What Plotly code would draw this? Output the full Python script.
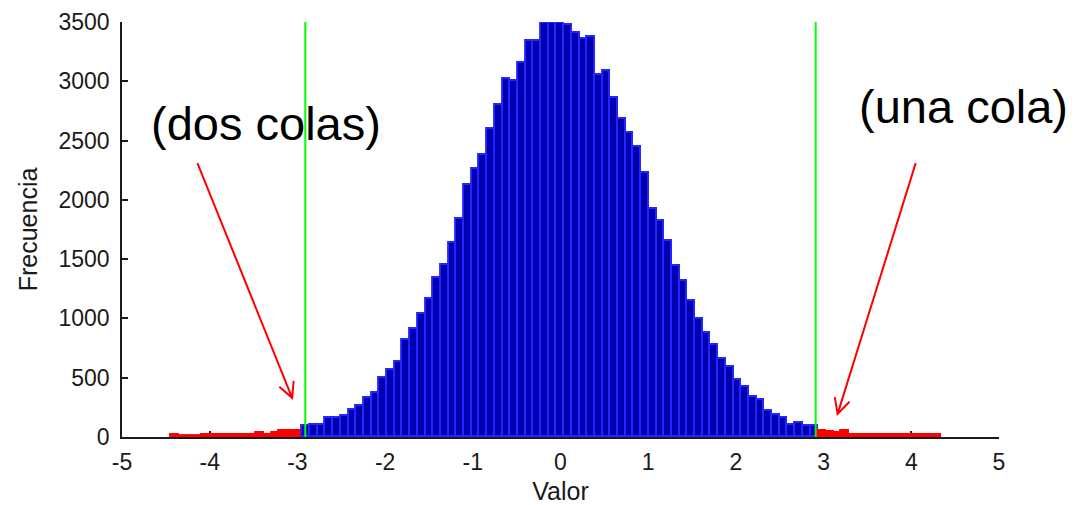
import numpy as np
import plotly.graph_objects as go

# ---------------- data ----------------
BIN_START = -4.436
BIN_WIDTH = 0.0878
COUNTS = [
    21, 7, 7, 7, 17, 17, 17, 17, 17, 17, 17, 32, 19, 34, 49, 49, 52,          # left tail
    89, 100, 100, 157, 157, 174, 224, 258, 326, 371, 494, 561, 629, 814, 910,
    1034, 1163, 1337, 1450, 1636, 1838, 2127, 2262, 2380, 2599, 2801, 3020,
    3004, 3155, 3340, 3340, 3490, 3490, 3490, 3476, 3406, 3356, 3375, 3054,
    3085, 2855, 2684, 2566, 2448, 2226, 1923, 1825, 1657, 1438, 1316, 1149,
    995, 879, 778, 660, 593, 477, 424, 337, 309, 219, 188, 157, 104, 121, 89, 89,
    49, 46, 34, 49, 17, 17, 17, 17, 17, 17, 17, 17, 17, 17, 17, 17,          # right tail
]
THRESHOLD = 2.91
X_TICKS = [-5, -4, -3, -2, -1, 0, 1, 2, 3, 4, 5]
Y_TICKS = [0, 500, 1000, 1500, 2000, 2500, 3000, 3500]
X_LABEL = "Valor"
Y_LABEL = "Frecuencia"
TEXT_LEFT = "(dos colas)"
TEXT_RIGHT = "(una cola)"

# annotation anchors (data units)
TEXT_LEFT_POS = (-3.36, 2640)
TEXT_RIGHT_POS = (4.59, 2790)
ARROWS = [((-4.14, 2310), (-3.06, 330)), ((4.05, 2310), (3.16, 195))]

# ---------------- layout geometry ----------------
# the page body has an 8px margin, so the figure is a bit smaller than the window
W, H = 1076, 497
ML, MR, MT, MB = 114, 85, 14, 68
PW, PH = W - ML - MR, H - MT - MB
XR = (-5, 5)
YR = (0, 3500)


def x2px(x):
    return ML + (x - XR[0]) / (XR[1] - XR[0]) * PW


def y2px(y):
    return MT + (YR[1] - y) / (YR[1] - YR[0]) * PH


def px2x(px):
    return XR[0] + (px - ML) / PW * (XR[1] - XR[0])


def px2y(py):
    return YR[1] - (py - MT) / PH * (YR[1] - YR[0])


centers = BIN_START + BIN_WIDTH * (np.arange(len(COUNTS)) + 0.5)
is_tail = np.abs(centers) > THRESHOLD
fill = ["#ff0000" if t else "#0000b0" for t in is_tail]
edge = ["#ff0000" if t else "#2525ff" for t in is_tail]

fig = go.Figure()
fig.add_trace(go.Bar(
    x=centers, y=COUNTS, width=BIN_WIDTH,
    marker=dict(color=fill, line=dict(color=edge, width=1.9)),
    showlegend=False, hoverinfo="skip",
))

shapes = []
for xv in (-THRESHOLD, THRESHOLD):
    shapes.append(dict(type="line", xref="x", yref="y", x0=xv, x1=xv, y0=YR[0], y1=YR[1],
                       line=dict(color="#00ff00", width=2), layer="above"))

# arrows with open V heads
for (tx, ty), (hx, hy) in ARROWS:
    tpx, tpy = x2px(tx), y2px(ty)
    hpx, hpy = x2px(hx), y2px(hy)
    ang = np.arctan2(tpy - hpy, tpx - hpx)
    L = 17
    a1 = ang + np.radians(27)
    a2 = ang - np.radians(27)
    p1 = (hpx + L * np.cos(a1), hpy + L * np.sin(a1))
    p2 = (hpx + L * np.cos(a2), hpy + L * np.sin(a2))
    path = (f"M {tx},{ty} L {hx},{hy} "
            f"M {px2x(p1[0])},{px2y(p1[1])} L {hx},{hy} L {px2x(p2[0])},{px2y(p2[1])}")
    shapes.append(dict(type="path", xref="x", yref="y", path=path,
                       line=dict(color="#ff0000", width=2), layer="above"))

font_fam = "Liberation Sans, Arial, sans-serif"
annotations = [
    dict(x=TEXT_LEFT_POS[0], y=TEXT_LEFT_POS[1], xref="x", yref="y", text=TEXT_LEFT,
         showarrow=False, font=dict(family=font_fam, size=47, color="#000000"),
         xanchor="center", yanchor="middle"),
    dict(x=TEXT_RIGHT_POS[0], y=TEXT_RIGHT_POS[1], xref="x", yref="y", text=TEXT_RIGHT,
         showarrow=False, font=dict(family=font_fam, size=47, color="#000000"),
         xanchor="center", yanchor="middle"),
]

fig.update_layout(
    width=W, height=H,
    margin=dict(l=ML, r=MR, t=MT, b=MB, pad=0, autoexpand=False),
    paper_bgcolor="white", plot_bgcolor="white",
    bargap=0,
    shapes=shapes, annotations=annotations,
    font=dict(family=font_fam, color="#1a1a1a"),
    xaxis=dict(range=list(XR), tickvals=X_TICKS, ticktext=[str(v) for v in X_TICKS],
               automargin=False,
               showgrid=False, zeroline=False, showline=True, linecolor="#1a1a1a", linewidth=1.5,
               ticks="inside", ticklen=6, tickcolor="#1a1a1a", tickwidth=1.5,
               tickfont=dict(size=23), ticklabelstandoff=4, layer="below traces",
               title=dict(text=X_LABEL, font=dict(size=25), standoff=11)),
    yaxis=dict(range=list(YR), tickvals=Y_TICKS, ticktext=[str(v) for v in Y_TICKS],
               automargin=False,
               showgrid=False, zeroline=False, showline=True, linecolor="#1a1a1a", linewidth=1.5,
               ticks="inside", ticklen=6, tickcolor="#1a1a1a", tickwidth=1.5,
               tickfont=dict(size=23), ticklabelstandoff=6, layer="below traces",
               title=dict(text=Y_LABEL, font=dict(size=25), standoff=14)),
)

fig.write_html("out.html")
